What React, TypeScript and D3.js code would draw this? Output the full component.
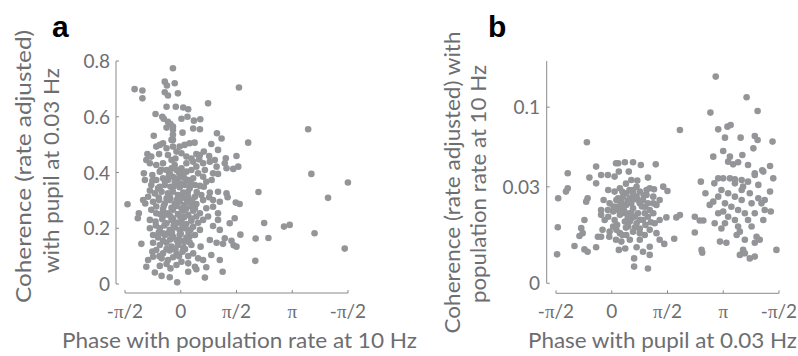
import React from 'react';
import * as d3 from 'd3';

const PI = Math.PI;
const xTickValues = [-PI / 2, 0, PI / 2, PI, (3 * PI) / 2];
const xTickLabels = ['-π/2', '0', 'π/2', 'π', '-π/2'];
const yTicksA = [0, 0.2, 0.4, 0.6, 0.8];
const yTickLabelsA = ['0', '0.2', '0.4', '0.6', '0.8'];
const yTicksB = [0, 0.03, 0.1];
const yTickLabelsB = ['0', '0.03', '0.1'];

const labelA = ['Coherence (rate adjusted)', 'with pupil at 0.03 Hz'];
const labelB = ['Coherence (rate adjusted) with', 'population rate at 10 Hz'];
const xLabelA = 'Phase with population rate at 10 Hz';
const xLabelB = 'Phase with pupil at 0.03 Hz';

// panel a: [phase (rad), coherence]
const pointsA: [number, number][] = [
  [-0.22,0.774],[-0.45,0.726],[-0.17,0.720],[-0.39,0.712],[-1.30,0.699],[-1.08,0.694],[-1.08,0.666],[-0.45,0.688],[-0.36,0.676],[-0.08,0.684],[1.64,0.705],
  [0.77,0.648],[-0.40,0.636],[-0.14,0.636],[0.07,0.633],[0.21,0.627],[-0.71,0.610],[-0.52,0.600],[-0.48,0.593],[0.02,0.593],[0.19,0.600],[0.37,0.586],[-0.36,0.582],[-0.29,0.574],[-0.22,0.565],[-0.40,0.561],[0.55,0.591],[0.35,0.558],[-0.22,0.553],[0.05,0.543],[3.59,0.555],[-0.76,0.532],[-0.22,0.535],[0.54,0.555],
  [1.02,0.541],[1.15,0.522],[1.90,0.507],[-0.22,0.517],[-0.69,0.493],[-0.59,0.499],[-0.50,0.505],[-0.26,0.517],[-0.03,0.493],[0.11,0.499],[0.25,0.505],[0.39,0.507],[-0.22,0.493],[-0.40,0.487],[0.86,0.502],[1.05,0.481],[0.65,0.475],[-0.94,0.466],[-0.97,0.445],[-0.83,0.457],[-0.61,0.466],[-0.36,0.463],[-0.12,0.475],[0.02,0.469],[0.16,0.457],[0.44,0.466],[0.52,0.447],[0.80,0.459],[0.96,0.445],[1.27,0.451],[1.57,0.459],[1.62,0.421],[1.48,0.413],[1.29,0.415],[1.24,0.433],[0.82,0.439],[0.63,0.433],[0.35,0.439],[-0.26,0.445],[-0.50,0.433],[-0.69,0.427],[-0.87,0.433],[-0.17,0.427],[0.16,0.433],
  [-1.04,0.397],[-1.01,0.373],[-0.80,0.391],[-0.59,0.403],[-0.40,0.409],[-0.26,0.415],[-0.12,0.409],[0.02,0.415],[0.16,0.403],[0.30,0.409],[0.49,0.397],[0.68,0.409],[0.91,0.397],[1.05,0.395],[3.68,0.395],[-0.69,0.373],[-0.50,0.379],[-0.36,0.373],[-0.22,0.385],[-0.08,0.379],[0.07,0.385],[0.21,0.373],[0.35,0.379],[0.72,0.367],[0.87,0.373],[4.71,0.364],[-0.83,0.355],[-0.64,0.343],[-0.45,0.355],[-0.29,0.349],[-0.14,0.359],[-0.03,0.347],[0.11,0.355],[0.25,0.343],[0.54,0.352],[0.65,0.349],[-0.87,0.335],[-0.73,0.325],[-0.54,0.331],[-0.36,0.325],[-0.22,0.331],[-0.08,0.319],[0.07,0.328],[0.21,0.313],[0.40,0.313],[0.58,0.319],[0.82,0.328],[1.05,0.331],[1.29,0.325],[2.19,0.330],[4.15,0.309],[1.32,0.311],[0.80,0.311],
  [-1.50,0.286],[-1.06,0.301],[-1.00,0.289],[-0.78,0.295],[-0.61,0.301],[-0.45,0.289],[-0.31,0.301],[-0.17,0.287],[-0.03,0.295],[0.11,0.283],[0.27,0.292],[0.44,0.287],[0.63,0.301],[0.91,0.277],[1.10,0.295],[1.55,0.292],[1.66,0.287],[-1.18,0.254],[-1.21,0.236],[-0.83,0.266],[-0.69,0.254],[-0.50,0.268],[-0.36,0.254],[-0.22,0.266],[-0.08,0.251],[0.07,0.263],[0.21,0.248],[0.35,0.263],[0.54,0.254],[0.77,0.242],[1.05,0.254],[-0.87,0.230],[-0.71,0.224],[-0.52,0.232],[-0.40,0.218],[-0.26,0.230],[-0.12,0.220],[0.02,0.230],[0.16,0.215],[0.30,0.227],[0.49,0.220],[0.63,0.230],[0.91,0.208],[1.38,0.218],[1.52,0.236],[2.35,0.219],[2.91,0.206],[3.07,0.212],[-0.59,0.200],[-0.31,0.194],[-0.17,0.203],[-0.03,0.194],[0.11,0.200],[0.27,0.194],[0.54,0.194],[1.10,0.194],[3.77,0.182],
  [-0.78,0.176],[-0.64,0.167],[-0.45,0.176],[-0.22,0.170],[-0.03,0.176],[0.16,0.167],[0.40,0.176],[0.82,0.158],[1.24,0.164],[1.43,0.155],[1.68,0.177],[2.11,0.163],[2.47,0.165],[-1.11,0.144],[-0.78,0.148],[-0.59,0.140],[-0.40,0.148],[-0.26,0.134],[-0.08,0.140],[0.07,0.132],[0.30,0.140],[0.56,0.134],[1.01,0.148],[1.19,0.144],[1.49,0.139],[1.57,0.134],[4.62,0.127],[-0.80,0.116],[-0.50,0.110],[-0.31,0.120],[-0.12,0.108],[0.05,0.116],[0.21,0.100],[0.86,0.104],[-0.78,0.098],[-0.54,0.092],[-0.36,0.086],[-0.22,0.096],[0.02,0.080],[0.21,0.074],[0.49,0.092],[0.63,0.086],[1.10,0.086],[2.10,0.083],[-0.97,0.062],[-0.59,0.065],[-0.40,0.072],[-0.29,0.056],[-0.12,0.068],[0.40,0.062],[0.72,0.060],
  [-0.73,0.041],[-0.54,0.029],[-0.31,0.024],[-0.10,0.006],[0.21,0.044],[0.68,0.023],[1.18,0.044],[0.44,0.053],
  [-0.31,0.397],[-0.17,0.367],[0.02,0.397],[-0.40,0.307],[-0.12,0.301],[-0.26,0.273],[0.02,0.272],[-0.45,0.248],[-0.22,0.236],[-0.03,0.244],[-0.36,0.182],[-0.12,0.158],[0.11,0.152],[-0.69,0.278],[0.44,0.242],[0.30,0.278],[-0.59,0.349],[0.16,0.304],[-0.50,0.182],[0.25,0.170],[-0.69,0.122],[-0.87,0.200],[-0.92,0.313],[0.16,0.373],[0.40,0.355],[0.63,0.385],[0.44,0.421],[0.54,0.463],[1.01,0.421],[0.72,0.272],[0.91,0.301],[1.05,0.230],[-0.92,0.086],
  [-0.55,0.41],[-0.33,0.39],[-0.05,0.40],[0.10,0.38],[0.28,0.36],[-0.45,0.37],[-0.20,0.35],[0.00,0.36],[0.20,0.33],[-0.62,0.31],[-0.30,0.31],[0.05,0.31],[0.32,0.30],[-0.48,0.28],[-0.12,0.28],[0.15,0.27],[0.40,0.27],[-0.58,0.25],[-0.30,0.245],[0.10,0.24],[0.30,0.235],[-0.70,0.21],[-0.46,0.21],[-0.20,0.21],[0.05,0.21],[0.35,0.205],[-0.62,0.185],[-0.25,0.185],[0.00,0.18],[0.22,0.185],[-0.50,0.155],[-0.30,0.16],[0.00,0.155],[0.25,0.15],[-0.40,0.125],[-0.15,0.125],[0.12,0.125],[-0.60,0.10],[-0.05,0.10],[0.35,0.11],[-0.15,0.45],[0.30,0.45],[-0.80,0.37],[0.45,0.33],[-0.10,0.22]
];

// panel b: [phase (rad), coherence]
const pointsB: [number, number][] = [
  [-1.51,0.0233],[-1.52,0.0101],[-1.54,0.0027],[-1.24,0.0390],[-1.24,0.0291],[-1.29,0.0271],[-0.70,0.0641],[-0.68,0.0233],[-0.72,0.0215],[-0.77,0.0129],[-0.86,0.0098],[-0.82,0.0081],[-0.91,0.0072],[-1.05,0.0045],[-0.77,0.0037],[-0.68,0.0032],[-0.44,0.0042],[-0.44,0.0439],[-0.63,0.0360],[-0.44,0.0322],[-0.30,0.0378],[-0.11,0.0378],[0.08,0.0367],[0.12,0.0464],[-0.30,0.0173],[-0.30,0.0151],[-0.39,0.0070],[-0.30,0.0070],[-0.07,0.0070],[0.12,0.0061],[0.18,0.0464],[0.37,0.0472],[0.60,0.0472],[0.82,0.0451],[1.24,0.0456],[0.20,0.0402],[0.48,0.0402],[0.55,0.0344],[0.72,0.0340],[1.02,0.0360],[1.45,0.0301],[1.57,0.0275],[1.07,0.0291],[1.19,0.0285],[1.54,0.0140],[1.82,0.0140],[1.92,0.0150],[1.76,0.0064],[1.48,0.0050],[1.07,0.0043],[0.88,0.0032],[1.07,0.0026],[0.63,0.0020],[0.63,0.0009],[1.02,0.0007],[0.20,0.0036],[1.92,0.0758],
  [-0.10,0.0281],[0.08,0.0271],[0.23,0.0291],[0.41,0.0261],[0.60,0.0281],[0.79,0.0271],[0.98,0.0252],[0.18,0.0233],[0.51,0.0233],[0.74,0.0224],[1.17,0.0242],[1.35,0.0224],
  [-0.06,0.0206],[0.13,0.0189],[0.27,0.0215],[0.41,0.0198],[0.60,0.0181],[0.79,0.0206],[0.93,0.0189],[1.07,0.0173],[1.26,0.0198],[0.04,0.0166],[0.51,0.0158],[0.74,0.0158],[1.17,0.0158],
  [-0.10,0.0143],[0.08,0.0129],[0.23,0.0151],[0.37,0.0123],[0.55,0.0136],[0.70,0.0116],[0.88,0.0129],[1.02,0.0143],[1.21,0.0116],[1.35,0.0129],[0.04,0.0104],[0.46,0.0104],[0.79,0.0097],[1.07,0.0092],
  [-0.06,0.0086],[0.23,0.0081],[0.41,0.0075],[0.60,0.0086],[0.93,0.0075],[1.26,0.0081],[0.51,0.0061],[0.79,0.0061],[0.27,0.0056],[0.38,0.0039],[0.70,0.0042],[1.35,0.0061],
  [0.13,0.0224],[0.32,0.0242],[0.55,0.0206],[0.70,0.0242],[0.88,0.0224],[1.02,0.0206],[0.18,0.0173],[0.37,0.0158],[0.65,0.0143],[0.93,0.0158],[0.51,0.0123],[0.79,0.0081],[0.13,0.0092],[0.32,0.0189],[0.60,0.0261],[0.98,0.0281],[1.17,0.0206],
  [-0.11,0.0173],[-0.23,0.0224],[-0.20,0.0129],[-0.26,0.0092],
  [0.30,0.027],[0.50,0.028],[0.45,0.022],[0.25,0.020],[0.65,0.023],[0.85,0.019],[0.35,0.017],[0.55,0.016],[0.80,0.013],[0.15,0.011],[0.40,0.010],[0.65,0.010],[0.95,0.011],[0.30,0.0075],[0.45,0.0135],[0.90,0.025],[0.05,0.019],[1.10,0.012],[0.70,0.030],[0.40,0.032],
  [2.93,0.1377],[3.80,0.1115],[2.78,0.0939],[4.11,0.0957],[3.00,0.0764],[3.26,0.0791],[3.35,0.0808],[3.19,0.0684],[3.63,0.0684],[4.03,0.0700],[4.11,0.0662],[4.53,0.0647],[3.14,0.0564],[2.86,0.0517],[3.33,0.0517],[3.28,0.0477],[3.42,0.0456],[3.56,0.0472],[3.68,0.0531],[3.99,0.0587],[3.84,0.0451],[4.03,0.0390],[4.24,0.0412],[4.46,0.0444],
  [2.51,0.0333],[2.64,0.0261],[2.34,0.0143],[2.48,0.0127],[2.58,0.0127],[2.34,0.0083],[2.53,0.0036],[2.55,0.0030],[2.89,0.0322],[3.00,0.0355],[3.14,0.0355],[3.33,0.0355],[3.47,0.0349],[3.66,0.0344],[3.84,0.0333],[4.03,0.0378],[4.27,0.0402],[4.13,0.0312],[4.55,0.0355],[4.46,0.0271],[4.31,0.0224],[4.48,0.0166],[4.27,0.0129],[4.64,0.0036],[2.86,0.0215],[2.76,0.0198],[2.90,0.0116],[3.09,0.0097],[3.05,0.0056],[3.23,0.0053],[3.52,0.0075],[3.61,0.0086],[3.75,0.0061],[4.08,0.0070],[4.17,0.0061],[4.03,0.0053],[3.70,0.0036],[3.75,0.0029],[3.61,0.0026],[3.89,0.0020],[4.03,0.0023],
  [3.09,0.0281],[3.28,0.0261],[3.47,0.0242],[3.66,0.0224],[3.19,0.0206],[3.37,0.0189],[3.56,0.0173],[3.75,0.0158],[3.94,0.0206],[4.03,0.0158],[3.84,0.0129],[3.47,0.0129],[3.28,0.0143],[3.14,0.0166],[3.00,0.0242],[3.66,0.0281],[3.89,0.0261],[4.13,0.0233],[3.19,0.0116],[3.56,0.0104],[3.94,0.0104],[4.22,0.0206],[4.31,0.0173],[3.47,0.0322],[3.70,0.0301],[3.00,0.0158]
];

const DOT = '#939598';
const AXIS = '#8a8a8d';
const TEXT = '#6d6e71';
const FONT = 'Lato, "Open Sans", sans-serif';

function TickLabel({ label, x, y, anchor }: { label: string; x: number; y: number; anchor: string }) {
  const idx = label.indexOf('π');
  if (idx < 0) {
    return <text x={x} y={y} textAnchor={anchor}>{label}</text>;
  }
  return (
    <text x={x} y={y} textAnchor={anchor}>
      {label.slice(0, idx)}
      <tspan fontFamily='"Liberation Serif", "DejaVu Serif", serif'>π</tspan>
      {label.slice(idx + 1)}
    </text>
  );
}

type PanelProps = {
  points: [number, number][];
  x: d3.ScaleLinear<number, number>;
  y: (v: number) => number;
  axisX: number;
  axisY: number;
  yTop: number;
  yBottom: number;
  yTicks: number[];
  yTickLabels: string[];
  labelEnd: number;
};

function Panel({ points, x, y, axisX, axisY, yTop, yBottom, yTicks, yTickLabels, labelEnd }: PanelProps) {
  const [x0, x1] = x.range();
  return (
    <g>
      {points.map((p, i) => (
        <circle key={i} cx={x(p[0])} cy={y(p[1])} r={3.3} fill={DOT} />
      ))}
      <line x1={axisX} x2={axisX} y1={yTop} y2={yBottom} stroke={AXIS} strokeWidth={1} />
      {yTicks.map((t, i) => (
        <line key={'yt' + i} x1={axisX} x2={axisX + 3} y1={y(t)} y2={y(t)} stroke={AXIS} />
      ))}
      <line x1={x0} x2={x1} y1={axisY} y2={axisY} stroke={AXIS} strokeWidth={1} />
      {xTickValues.map((t, i) => (
        <line key={'xt' + i} x1={x(t)} x2={x(t)} y1={axisY} y2={axisY - 3} stroke={AXIS} />
      ))}
      <g fontFamily={FONT} fontSize={19} fill={TEXT}>
        {yTicks.map((t, i) => (
          <TickLabel key={'yl' + i} label={yTickLabels[i]} x={labelEnd} y={y(t) + 7} anchor="end" />
        ))}
        {xTickValues.map((t, i) => (
          <TickLabel key={'xl' + i} label={xTickLabels[i]} x={x(t)} y={318} anchor="middle" />
        ))}
      </g>
    </g>
  );
}

export default function App() {
  const xA = d3.scaleLinear().domain([-PI / 2, (3 * PI) / 2]).range([125, 348]);
  const yA = d3.scaleLinear().domain([0, 0.8]).range([284, 61]);
  const xB = d3.scaleLinear().domain([-PI / 2, (3 * PI) / 2]).range([556, 779]);
  const yB = d3.scaleSqrt().domain([0, 0.16]).range([283.3, 60.5]);

  return (
    <svg width={798} height={356} style={{ position: 'absolute', left: 0, top: 0, background: '#fff' }}>
      <rect width={798} height={356} fill="#fff" />
      <Panel points={pointsA} x={xA} y={yA} axisX={116} axisY={293} yTop={61} yBottom={284}
        yTicks={yTicksA} yTickLabels={yTickLabelsA} labelEnd={110} />
      <Panel points={pointsB} x={xB} y={yB} axisX={546.7} axisY={293.3} yTop={61} yBottom={283.3}
        yTicks={yTicksB} yTickLabels={yTickLabelsB} labelEnd={540} />
      <g fontFamily={FONT} fontSize={21} fill={TEXT}>
        <text transform="translate(31,166.5) rotate(-90)" textAnchor="middle" textLength={273} lengthAdjust="spacingAndGlyphs">{labelA[0]}</text>
        <text transform="translate(59,170.5) rotate(-90)" textAnchor="middle" textLength={205} lengthAdjust="spacingAndGlyphs">{labelA[1]}</text>
        <text transform="translate(460,182.5) rotate(-90)" textAnchor="middle" textLength={302} lengthAdjust="spacingAndGlyphs">{labelB[0]}</text>
        <text transform="translate(486,184) rotate(-90)" textAnchor="middle" textLength={238} lengthAdjust="spacingAndGlyphs">{labelB[1]}</text>
        <text x={239.5} y={348} textAnchor="middle" textLength={355} lengthAdjust="spacingAndGlyphs">{xLabelA}</text>
        <text x={662.5} y={348} textAnchor="middle" textLength={269} lengthAdjust="spacingAndGlyphs">{xLabelB}</text>
      </g>
      <g fontFamily='"Liberation Sans", Arial, sans-serif' fontWeight="bold" fontSize={30} fill="#000">
        <text x={52} y={37}>a</text>
        <text x={488} y={37}>b</text>
      </g>
    </svg>
  );
}
